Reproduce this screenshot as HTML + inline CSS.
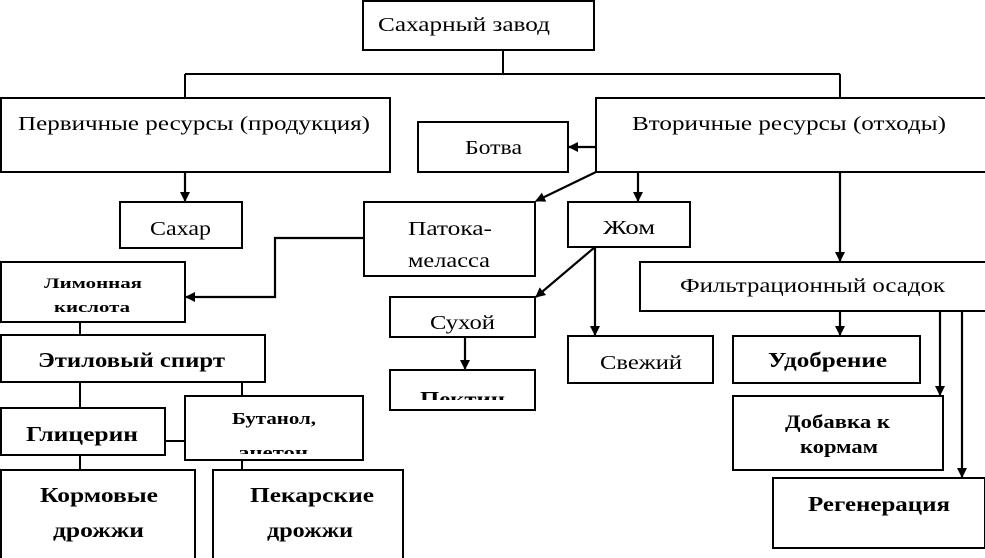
<!DOCTYPE html>
<html><head><meta charset="utf-8"><style>
html,body{margin:0;padding:0;background:#fff;}
svg{display:block;}
text{font-family:"Liberation Serif","Noto Serif CJK SC",serif;fill:#000;}
.b{font-weight:bold;}
</style></head><body>
<svg width="985" height="558" viewBox="0 0 985 558" xmlns="http://www.w3.org/2000/svg">
<defs><marker id="a" markerWidth="10" markerHeight="10" refX="9" refY="5" orient="auto" markerUnits="userSpaceOnUse"><path d="M0,0 L10,5 L0,10 z" fill="#000"/></marker>
<clipPath id="cp"><rect x="390" y="370" width="145" height="30"/></clipPath>
<clipPath id="cb"><rect x="185" y="396" width="178" height="58"/></clipPath>
</defs>
<g fill="none" stroke="#000" stroke-width="2">
<rect x="363" y="1" width="231" height="49"/>
<rect x="1" y="98" width="389" height="74"/>
<rect x="596" y="98" width="392" height="74"/>
<rect x="418" y="122" width="150" height="50"/>
<rect x="120" y="202" width="122" height="46"/>
<rect x="364" y="202" width="171" height="74"/>
<rect x="568" y="202" width="122" height="45"/>
<rect x="640" y="262" width="348" height="49"/>
<rect x="1" y="262" width="184" height="60"/>
<rect x="1" y="335" width="264" height="47"/>
<rect x="1" y="408" width="164" height="47"/>
<rect x="185" y="396" width="178" height="64"/>
<rect x="1" y="470" width="194" height="90"/>
<rect x="213" y="470" width="190" height="90"/>
<rect x="390" y="297" width="145" height="40"/>
<rect x="390" y="370" width="145" height="40"/>
<rect x="568" y="336" width="145" height="47"/>
<rect x="733" y="336" width="187" height="47"/>
<rect x="733" y="396" width="210" height="74"/>
<rect x="773" y="478" width="212" height="70"/>
<path d="M503,50 V74 M185,74 H840 M185,74 V98 M840,74 V98"/>
<path d="M80,322 V335 M80,382 V408 M242,382 V396 M165,441 H185 M80,455 V470 M242,460 V470"/>
</g>
<g fill="none" stroke="#000" stroke-width="2.2" marker-end="url(#a)">
<path d="M185,172 V201"/>
<path d="M596,147 H569"/>
<path d="M596,172 L536,201"/>
<path d="M638,172 V201"/>
<path d="M840,172 V261"/>
<path d="M364,238 H275 V297 H186"/>
<path d="M595,247 L536,297"/>
<path d="M595,247 V335"/>
<path d="M465,337 V369"/>
<path d="M840,311 V335"/>
<path d="M940,311 V395"/>
<path d="M962,311 V477"/>
</g>
<g font-size="20" lengthAdjust="spacingAndGlyphs">
<text x="378" y="31" textLength="172" lengthAdjust="spacingAndGlyphs">Сахарный завод</text>
<text x="18" y="130" textLength="352" lengthAdjust="spacingAndGlyphs">Первичные ресурсы (продукция)</text>
<text x="632" y="130" textLength="314" lengthAdjust="spacingAndGlyphs">Вторичные ресурсы (отходы)</text>
<text x="465" y="154" textLength="57" lengthAdjust="spacingAndGlyphs">Ботва</text>
<text x="150" y="235" textLength="61" lengthAdjust="spacingAndGlyphs">Сахар</text>
<text x="408" y="235" textLength="84" lengthAdjust="spacingAndGlyphs">Патока-</text>
<text x="408" y="267" textLength="82" lengthAdjust="spacingAndGlyphs">меласса</text>
<text x="603" y="234" textLength="52" lengthAdjust="spacingAndGlyphs">Жом</text>
<text x="680" y="292" textLength="265" lengthAdjust="spacingAndGlyphs">Фильтрационный осадок</text>
<text x="430" y="329" textLength="65" lengthAdjust="spacingAndGlyphs">Сухой</text>
<text x="600" y="369" textLength="82" lengthAdjust="spacingAndGlyphs">Свежий</text>
</g>
<g class="b">
<text class="b" x="44" y="288" font-size="15" textLength="98" lengthAdjust="spacingAndGlyphs">Лимонная</text>
<text class="b" x="54" y="312" font-size="15" textLength="76" lengthAdjust="spacingAndGlyphs">кислота</text>
<text class="b" x="38" y="367" font-size="21" textLength="187" lengthAdjust="spacingAndGlyphs">Этиловый спирт</text>
<text class="b" x="26" y="441" font-size="21" textLength="112" lengthAdjust="spacingAndGlyphs">Глицерин</text>
<g clip-path="url(#cb)">
<text class="b" x="232" y="424" font-size="17" textLength="84" lengthAdjust="spacingAndGlyphs">Бутанол,</text>
<text class="b" x="238" y="458" font-size="17" textLength="70" lengthAdjust="spacingAndGlyphs">ацетон</text>
</g>
<text class="b" x="40" y="502" font-size="21" textLength="118" lengthAdjust="spacingAndGlyphs">Кормовые</text>
<text class="b" x="53" y="537" font-size="21" textLength="91" lengthAdjust="spacingAndGlyphs">дрожжи</text>
<text class="b" x="250" y="502" font-size="21" textLength="124" lengthAdjust="spacingAndGlyphs">Пекарские</text>
<text class="b" x="267" y="537" font-size="21" textLength="86" lengthAdjust="spacingAndGlyphs">дрожжи</text>
<g clip-path="url(#cp)">
<text class="b" x="420" y="406" font-size="21" textLength="85" lengthAdjust="spacingAndGlyphs">Пектин</text>
</g>
<text class="b" x="768" y="367" font-size="21" textLength="119" lengthAdjust="spacingAndGlyphs">Удобрение</text>
<text class="b" x="785" y="428" font-size="19" textLength="105" lengthAdjust="spacingAndGlyphs">Добавка к</text>
<text class="b" x="800" y="453" font-size="19" textLength="78" lengthAdjust="spacingAndGlyphs">кормам</text>
<text class="b" x="808" y="511" font-size="21" textLength="142" lengthAdjust="spacingAndGlyphs">Регенерация</text>
</g>
</svg>
</body></html>
